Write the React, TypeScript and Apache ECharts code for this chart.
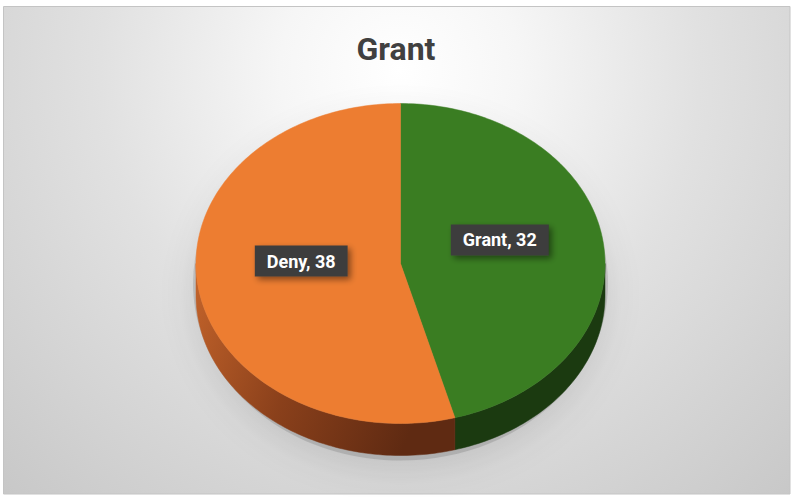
import React, { useEffect, useRef } from "react";
import * as echarts from "echarts";

const chartTitle = "Grant";
const categories = ["Grant", "Deny"];
const values = [32, 38];
const topColors = ["#3a7d22", "#ed7d31"];

const W = 792;
const H = 497;
const CX = 400.5;
const CY = 263.5;
const RX = 204.5;
const RY = 160;
const DEPTH = 32;

function pt(theta: number, dy = 0): number[] {
  return [CX + RX * Math.sin(theta), CY - RY * Math.cos(theta) + dy];
}

function arcPoints(a1: number, a2: number, dy = 0): number[][] {
  const n = Math.max(4, Math.ceil(Math.abs(a2 - a1) / 0.02));
  const pts: number[][] = [];
  for (let i = 0; i <= n; i++) pts.push(pt(a1 + ((a2 - a1) * i) / n, dy));
  return pts;
}

const sideFills: any[] = [
  "#1b3a10",
  {
    type: "linear",
    x: 0,
    y: 0,
    x2: 1,
    y2: 0.3,
    colorStops: [
      { offset: 0, color: "#c4642b" },
      { offset: 0.5, color: "#8a401b" },
      { offset: 1, color: "#5f2a12" },
    ],
  },
];

export default function App() {
  const ref = useRef<HTMLDivElement>(null);
  useEffect(() => {
    document.body.style.margin = "0";
    if (!ref.current) return;
    const chart = echarts.init(ref.current, null, { renderer: "svg" });
    const total = values.reduce((a, b) => a + b, 0);
    const renderItem = (params: any, api: any) => {
      const idx = params.dataIndex;
      let before = 0;
      for (let i = 0; i < idx; i++) before += values[i];
      const v = api.value(1);
      const a1 = (before / total) * Math.PI * 2;
      const a2 = ((before + v) / total) * Math.PI * 2;
      const children: any[] = [];
      const lo = Math.max(a1, Math.PI / 2);
      const hi = Math.min(a2, (Math.PI * 3) / 2);
      if (lo < hi) {
        const top = arcPoints(lo, hi, 0);
        const bot = arcPoints(hi, lo, DEPTH);
        children.push({
          type: "polygon",
          z2: 1,
          shape: { points: top.concat(bot) },
          style: { fill: sideFills[idx], stroke: sideFills[idx], lineWidth: 0.5 },
        });
      }
      children.push({
        type: "polygon",
        z2: 10,
        shape: { points: [[CX, CY]].concat(arcPoints(a1, a2, 0)) },
        style: { fill: topColors[idx], stroke: topColors[idx], lineWidth: 0.5 },
      });
      const mid = (a1 + a2) / 2;
      const lp = [CX + RX * 0.49 * Math.sin(mid), CY - RY * 0.49 * Math.cos(mid) - 13];
      children.push({
        type: "text",
        z2: 100,
        style: {
          text: categories[idx] + ", " + v,
          x: lp[0],
          y: lp[1],
          align: "center",
          verticalAlign: "middle",
          fill: "#ffffff",
          font: "bold 18px Roboto",
          backgroundColor: "#3c3c3c",
          padding: [7, 12, 6, 12],
          shadowBlur: 6,
          shadowColor: "rgba(0,0,0,0.45)",
          shadowOffsetX: 3,
          shadowOffsetY: 3,
        },
      });
      return { type: "group", children };
    };

    chart.setOption({
      animation: false,
      title: {
        text: chartTitle,
        left: "center",
        top: 28,
        textStyle: {
          fontSize: 32,
          fontWeight: "bold",
          color: "#404040",
          fontFamily: "Roboto",
        },
      },
      graphic: [
        {
          type: "rect",
          z: 0,
          shape: { x: 3.5, y: 6.5, width: 786.5, height: 487.5 },
          style: {
            fill: {
              type: "radial",
              x: 400,
              y: 70,
              r: 600,
              global: true,
              colorStops: [
                { offset: 0, color: "#ffffff" },
                { offset: 0.2, color: "#f6f6f6" },
                { offset: 0.5, color: "#e1e1e1" },
                { offset: 1, color: "#c6c6c6" },
              ],
            },
            stroke: "#c4c4c4",
            lineWidth: 1,
          },
        },
        {
          type: "ellipse",
          z: 1,
          shape: { cx: CX, cy: CY + DEPTH / 2 + 4, rx: RX + 3, ry: RY + DEPTH / 2 + 1 },
          style: {
            fill: "rgba(0,0,0,0.12)",
            shadowBlur: 32,
            shadowColor: "rgba(0,0,0,0.85)",
            shadowOffsetY: 10,
          },
        },
      ],
      series: [
        {
          type: "custom",
          coordinateSystem: "none",
          renderItem,
          data: values.map((v, i) => [i, v]),
        },
      ],
    });
    return () => chart.dispose();
  }, []);
  return <div ref={ref} style={{ width: W, height: H, position: "absolute", left: 0, top: 0 }} />;
}
